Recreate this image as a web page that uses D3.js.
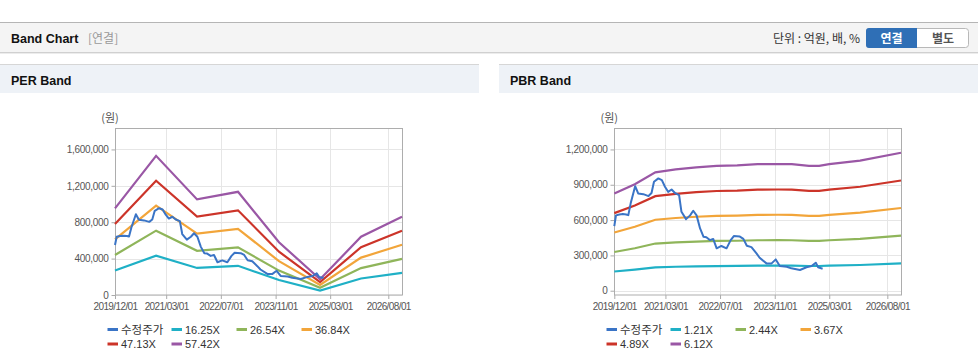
<!DOCTYPE html>
<meta charset="utf-8">
<script src="https://d3js.org/d3.v7.min.js"></script>
<style>
  body { margin: 0; background: #fff; }
  text { font-family: "Liberation Sans", "Noto Sans CJK KR", sans-serif; }
  .kr { font-family: "Noto Sans CJK KR", sans-serif; }
</style>
<div id="chart"></div>
<script>

// ---- data ----
var xTickLabels = ["2019/12/01", "2021/03/01", "2022/07/01", "2023/11/01", "2025/03/01", "2026/08/01"];

// adjusted share price (수정주가)
var priceDates = ["2019-12-01","2019-12-16","2020-01-16","2020-02-15","2020-03-16","2020-04-04","2020-04-25",
  "2020-06-04","2020-07-01","2020-08-16","2020-10-01","2020-10-28","2020-11-19","2020-12-28","2021-01-28",
  "2021-02-25","2021-03-25","2021-04-25","2021-05-25","2021-07-01","2021-07-22","2021-09-01","2021-10-07",
  "2021-11-04","2021-12-04","2022-01-04","2022-02-04","2022-03-01","2022-04-01","2022-05-01","2022-06-01",
  "2022-07-13","2022-08-28","2022-10-04","2022-11-01","2022-12-25","2023-01-25","2023-02-25","2023-04-07",
  "2023-05-22","2023-06-19","2023-08-19","2023-10-04","2023-11-10","2023-12-16","2024-02-16","2024-03-28",
  "2024-06-13","2024-08-10","2024-09-25","2024-11-01","2024-11-22","2025-01-01"];
var priceValues = [549000,640000,648000,651000,648000,642000,742000,
  888000,826000,820000,804000,830000,925000,954000,940000,
  883000,840000,860000,830000,812000,670000,608000,640000,
  679000,640000,529000,458000,455000,430000,440000,360000,
  380000,360000,430000,464000,460000,440000,382000,370000,
  317000,280000,232000,232000,266000,209000,204000,190000,
  176000,199000,209000,238000,199000,187000];

// EPS used for the PER band
var epsDates = ["2019-12-01","2020-12-01","2021-12-01","2022-12-01","2023-12-01","2024-12-01","2025-12-01","2026-12-01"];
var epsValues = [16580, 26640, 18300, 19750, 10100, 3000, 11150, 14970];
var perMultiples = [16.25, 26.54, 36.84, 47.13, 57.42];

// BPS used for the PBR band
var bpsDates = ["2019-12-01","2020-06-01","2020-12-01","2021-06-01","2021-12-01","2022-06-01","2022-12-01",
  "2023-06-01","2023-12-01","2024-04-01","2024-09-01","2024-12-01","2025-03-01","2025-12-01","2026-12-01"];
var bpsValues = [134800, 147900, 164200, 168300, 171200, 173200, 174000,
  175700, 175800, 175700, 173400, 173400, 175700, 180600, 191500];
var pbrMultiples = [1.21, 2.44, 3.67, 4.89, 6.12];

var perYTicks = [0, 400000, 800000, 1200000, 1600000];
var pbrYTicks = [0, 300000, 600000, 900000, 1200000];

var priceColor = "#3a74c6";
var bandColors = ["#1fb0c6", "#8fb55a", "#f2a53a", "#cc3429", "#9a57a5"];

// ---- page ----
var W = 978, H = 364;
var parse = d3.timeParse("%Y-%m-%d");
var parseTick = d3.timeParse("%Y/%m/%d");

var svg = d3.select("#chart").append("svg")
  .attr("width", W).attr("height", H);

// top bar
svg.append("rect").attr("x", 0).attr("y", 22).attr("width", W).attr("height", 30)
  .attr("fill", "#f4f4f4");
svg.append("line").attr("x1", 0).attr("x2", W).attr("y1", 22.5).attr("y2", 22.5)
  .attr("stroke", "#b5b5b5");
svg.append("line").attr("x1", 0).attr("x2", W).attr("y1", 52.5).attr("y2", 52.5)
  .attr("stroke", "#d0d0d0");
svg.append("line").attr("x1", 0).attr("x2", W).attr("y1", 53.5).attr("y2", 53.5)
  .attr("stroke", "#ececec");
svg.append("text").attr("x", 11).attr("y", 42.5)
  .attr("font-size", "12.5px").attr("font-weight", "bold").attr("fill", "#111")
  .text("Band Chart");
svg.append("text").attr("class", "kr").attr("x", 88).attr("y", 42.5)
  .attr("font-size", "12px").attr("fill", "#999").text("[연결]");
svg.append("text").attr("class", "kr").attr("x", 860).attr("y", 42.5)
  .attr("text-anchor", "end").attr("font-size", "12px").attr("fill", "#333")
  .text("단위 : 억원, 배, %");

// 연결 / 별도 toggle
svg.append("rect").attr("x", 866.5).attr("y", 28.5).attr("width", 102).attr("height", 19)
  .attr("rx", 3).attr("fill", "#fff").attr("stroke", "#b8b8b8");
svg.append("path")
  .attr("d", "M917,28 H869 Q866,28 866,31 V45 Q866,48 869,48 H917 Z")
  .attr("fill", "#2f6fb6");
svg.append("text").attr("class", "kr").attr("x", 891.5).attr("y", 42.5)
  .attr("text-anchor", "middle").attr("font-size", "12px").attr("font-weight", "bold")
  .attr("fill", "#fff").text("연결");
svg.append("text").attr("class", "kr").attr("x", 943).attr("y", 42.5)
  .attr("text-anchor", "middle").attr("font-size", "12px").attr("font-weight", "bold")
  .attr("fill", "#555").text("별도");

// panel headers
function panelHeader(x0, x1, title) {
  svg.append("rect").attr("x", x0).attr("y", 64).attr("width", x1 - x0).attr("height", 29)
    .attr("fill", "#eef2f7");
  svg.append("line").attr("x1", x0).attr("x2", x1).attr("y1", 64.5).attr("y2", 64.5)
    .attr("stroke", "#d6d6d6");
  svg.append("text").attr("x", x0 + 11).attr("y", 84.5)
    .attr("font-size", "12.5px").attr("font-weight", "bold").attr("fill", "#111")
    .text(title);
}
panelHeader(0, 479, "PER Band");
panelHeader(499, 978, "PBR Band");

// ---- one band chart ----
function bandChart(opt) {
  var x = d3.scaleTime()
    .domain([parse("2019-12-01"), parse("2026-12-01")])
    .range([opt.left, opt.right]);
  var y = d3.scaleLinear()
    .domain(opt.yDomain)
    .range([295, 128.5]);

  var g = svg.append("g");

  // grid
  g.selectAll(".hgrid").data(opt.yTicks).enter().append("line")
    .attr("x1", opt.left).attr("x2", opt.right)
    .attr("y1", function(d) { return Math.round(y(d)) + 0.5; })
    .attr("y2", function(d) { return Math.round(y(d)) + 0.5; })
    .attr("stroke", "#e6e6e6");
  g.selectAll(".vgrid").data(xTickLabels.map(parseTick)).enter().append("line")
    .attr("y1", 128.5).attr("y2", 295)
    .attr("x1", function(d) { return Math.round(x(d)) + 0.5; })
    .attr("x2", function(d) { return Math.round(x(d)) + 0.5; })
    .attr("stroke", "#e6e6e6");

  // axes
  var yAxis = g.append("g")
    .attr("transform", "translate(" + (Math.round(opt.left) + 0.5) + ",0)")
    .call(d3.axisLeft(y).tickValues(opt.yTicks).tickSize(4).tickPadding(3)
      .tickFormat(d3.format(",")));
  yAxis.select(".domain").remove();
  yAxis.selectAll("line").attr("stroke", "#aaa");
  yAxis.selectAll("text").attr("fill", "#555").attr("font-size", "10px")
    .attr("letter-spacing", "-0.3px")
    .style("font-family", "'Liberation Sans', sans-serif");

  var xAxis = g.append("g")
    .attr("transform", "translate(0,295)")
    .call(d3.axisBottom(x).tickValues(xTickLabels.map(parseTick)).tickSize(4).tickPadding(4)
      .tickFormat(d3.timeFormat("%Y/%m/%d")));
  xAxis.select(".domain").remove();
  xAxis.selectAll("line").attr("stroke", "#aaa");
  xAxis.selectAll("text").attr("fill", "#555").attr("font-size", "10px")
    .attr("letter-spacing", "-0.6px")
    .style("font-family", "'Liberation Sans', sans-serif");

  // frame
  g.append("rect")
    .attr("x", Math.round(opt.left) + 0.5).attr("y", 128.5)
    .attr("width", Math.round(opt.right) - Math.round(opt.left)).attr("height", 166.5)
    .attr("fill", "none").attr("stroke", "#adadad");

  svg.append("text").attr("class", "kr")
    .attr("x", opt.left - 5).attr("y", 122)
    .attr("text-anchor", "middle").attr("font-size", "11px").attr("fill", "#555")
    .text("(원)");

  var line = d3.line()
    .x(function(d) { return x(d.date); })
    .y(function(d) { return y(d.value); });

  // band lines: multiple x base value
  opt.multiples.forEach(function(m, i) {
    var pts = opt.baseDates.map(function(dt, j) {
      return { date: parse(dt), value: m * opt.baseValues[j] };
    });
    g.append("path").datum(pts)
      .attr("d", line)
      .attr("fill", "none")
      .attr("stroke", bandColors[i])
      .attr("stroke-width", 2.2);
  });

  var price = priceDates.map(function(dt, j) {
    return { date: parse(dt), value: priceValues[j] };
  });
  g.append("path").datum(price)
    .attr("d", line)
    .attr("fill", "none")
    .attr("stroke", priceColor)
    .attr("stroke-width", 2)
    .attr("stroke-linejoin", "round");

  // legend
  var items = [{ label: "수정주가", color: priceColor }].concat(
    opt.multiples.map(function(m, i) {
      return { label: m.toFixed(2) + "X", color: bandColors[i] };
    }));
  var colX = [0, 64, 129, 194];
  var lg = svg.append("g").attr("transform", "translate(" + opt.legendX + ",0)");
  items.forEach(function(it, i) {
    var cx = colX[i % 4], cy = i < 4 ? 329.5 : 344;
    lg.append("line")
      .attr("x1", cx).attr("x2", cx + 10.5)
      .attr("y1", cy).attr("y2", cy)
      .attr("stroke", it.color).attr("stroke-width", 3);
    lg.append("text")
      .attr("class", i === 0 ? "kr" : null)
      .attr("x", cx + 13.5).attr("y", cy + 4)
      .attr("font-size", i === 0 ? "11.5px" : "11px")
      .attr("fill", "#333")
      .text(it.label);
  });
}

bandChart({
  left: 115, right: 402,
  yDomain: [0, 1830000], yTicks: perYTicks,
  baseDates: epsDates, baseValues: epsValues, multiples: perMultiples,
  legendX: 107.5
});

bandChart({
  left: 614.3, right: 901,
  yDomain: [-36500, 1378000], yTicks: pbrYTicks,
  baseDates: bpsDates, baseValues: bpsValues, multiples: pbrMultiples,
  legendX: 606.5
});

</script>
